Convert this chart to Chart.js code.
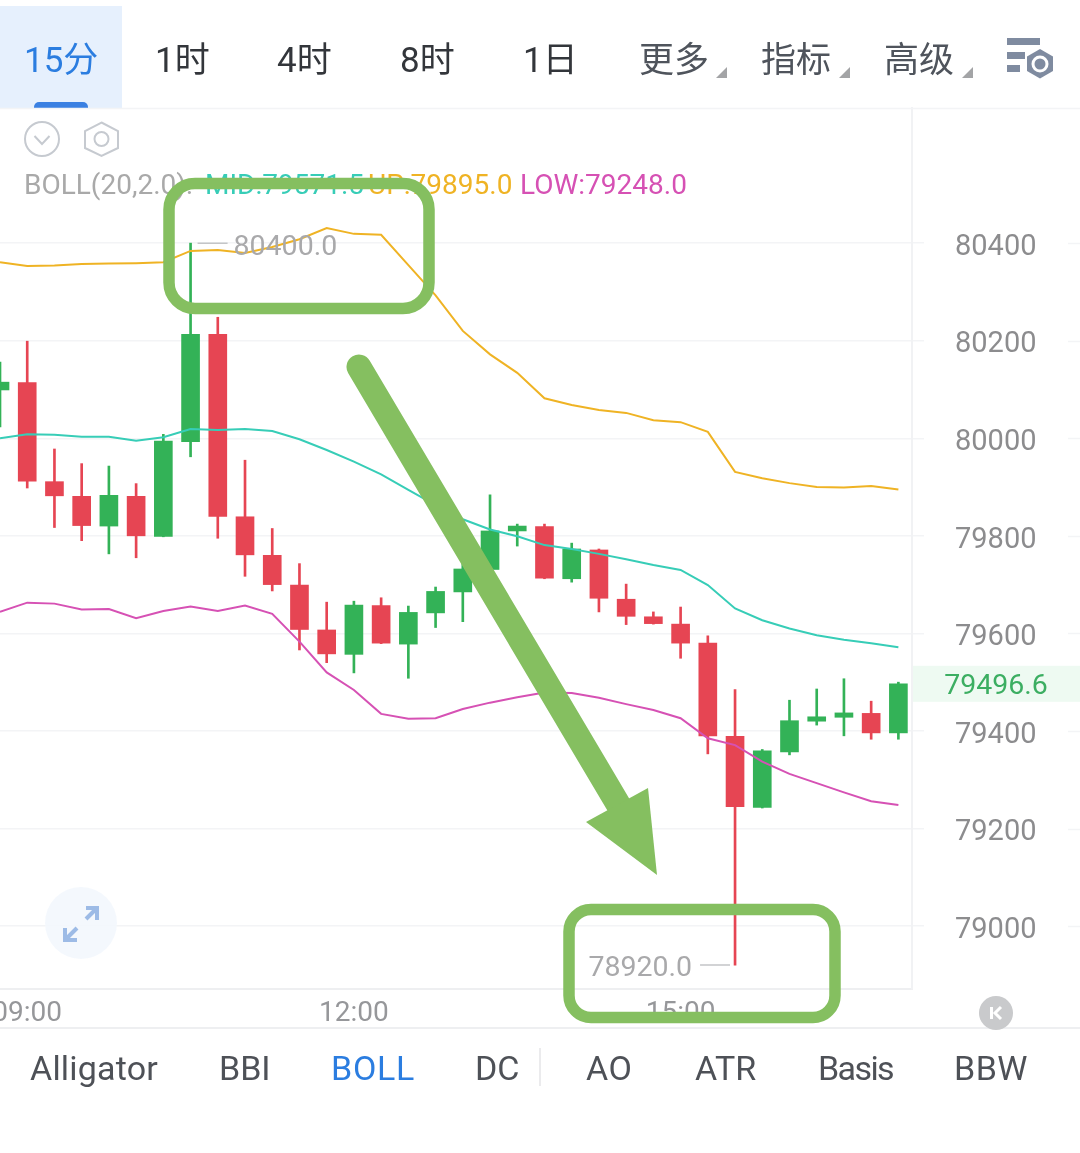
<!DOCTYPE html>
<html>
<head>
<meta charset="utf-8">
<script src="https://cdn.jsdelivr.net/npm/chart.js@4"></script>
<style>
html,body{margin:0;padding:0;background:#fff;width:1080px;height:1153px;overflow:hidden}
#wrap{position:relative;width:1080px;height:1153px;overflow:hidden;font-family:Roboto,"Noto Sans CJK SC",sans-serif}
canvas{position:absolute;left:0;top:0}
.t{position:absolute;white-space:nowrap;line-height:1;transform:translateY(-50%)}
.cn{font-family:Roboto,"Noto Sans CJK SC",sans-serif;font-size:35px;font-weight:400;color:#33363b}
.menu{color:#4f545c}
.tab{font-size:34px;color:#4e5157}
.leg{font-size:28px}
#overlay{position:absolute;left:0;top:0}
</style>
</head>
<body>
<div id="wrap">
  <div style="position:absolute;left:0;top:6px;width:122px;height:102px;background:#e6f0fd"></div>
  <div style="position:absolute;left:34px;top:102px;width:54px;height:6px;background:#3a80e2;border-radius:5px 5px 0 0"></div>
  <canvas id="c" width="1080" height="1153"></canvas>
  <span class="t cn" style="left:24px;top:60px;color:#2b7de0">15分</span>
  <span class="t cn" style="left:155px;top:60px">1时</span>
  <span class="t cn" style="left:277px;top:60px">4时</span>
  <span class="t cn" style="left:400px;top:60px">8时</span>
  <span class="t cn" style="left:523px;top:60px">1日</span>
  <span class="t cn menu" style="left:639px;top:60px">更多</span>
  <span class="t cn menu" style="left:761px;top:60px">指标</span>
  <span class="t cn menu" style="left:884px;top:60px">高级</span>
  <div id="legend"></div>
  <span class="t tab" style="left:30px;top:1068px;letter-spacing:.2px">Alligator</span>
  <span class="t tab" style="left:219px;top:1068px">BBI</span>
  <span class="t tab" style="left:331px;top:1068px;color:#2b7de0;letter-spacing:.7px">BOLL</span>
  <span class="t tab" style="left:475px;top:1068px">DC</span>
  <span class="t tab" style="left:586px;top:1068px;letter-spacing:.5px">AO</span>
  <span class="t tab" style="left:695px;top:1068px">ATR</span>
  <span class="t tab" style="left:818px;top:1068px;letter-spacing:-1.6px">Basis</span>
  <span class="t tab" style="left:954px;top:1068px;letter-spacing:.5px">BBW</span>
  <svg id="overlay" width="1080" height="1153" viewBox="0 0 1080 1153">
    <!-- toolbar carets -->
    <polygon points="727,67 727,78 716,78" fill="#a3a4a6"/>
    <polygon points="850,67 850,78 839,78" fill="#a3a4a6"/>
    <polygon points="973,67 973,78 962,78" fill="#a3a4a6"/>
    <!-- settings icon -->
    <rect x="1007" y="38" width="33" height="7" fill="#7f8ba0"/>
    <rect x="1007" y="52" width="18" height="7" fill="#7f8ba0"/>
    <rect x="1007" y="65" width="13" height="7" fill="#7f8ba0"/>
    <polygon points="1040,49 1053,56.5 1053,71 1040,78.5 1027,71 1027,56.5" fill="#7f8ba0"/>
    <circle cx="1040" cy="64" r="8.5" fill="#fff"/>
    <circle cx="1040" cy="64" r="5.5" fill="#7f8ba0"/>
    <!-- collapse + hex icons -->
    <circle cx="42" cy="139" r="17" fill="none" stroke="#c6cad0" stroke-width="2"/>
    <polyline points="34.5,136 42,144 49.5,136" fill="none" stroke="#c6cad0" stroke-width="2"/>
    <polygon points="101.5,122.5 118,131 118,148 101.5,156 85,148 85,131" fill="none" stroke="#c6cad0" stroke-width="2"/>
    <circle cx="101.5" cy="139" r="7" fill="none" stroke="#c6cad0" stroke-width="2"/>
    <!-- expand button -->
    <circle cx="81" cy="923" r="36" fill="#f3f7fd" fill-opacity=".9"/>
    <polyline points="86,908 97,908 97,920" fill="none" stroke="#9dbbe6" stroke-width="4"/>
    <line x1="96" y1="909" x2="86" y2="919" stroke="#9dbbe6" stroke-width="4"/>
    <polyline points="65,928 65,940 77,940" fill="none" stroke="#9dbbe6" stroke-width="4"/>
    <line x1="66" y1="939" x2="77" y2="928" stroke="#9dbbe6" stroke-width="4"/>
    <!-- K button -->
    <circle cx="996" cy="1013" r="17" fill="#c9cacc"/>
    <rect x="990" y="1007" width="3" height="12" fill="#fff"/>
    <polyline points="1001,1007 995,1013 1001,1019" fill="none" stroke="#fff" stroke-width="3"/>
    <!-- tab separator -->
    <line x1="540" y1="1048" x2="540" y2="1086" stroke="#e4e5e7" stroke-width="1.5"/>
    <!-- annotations -->
    <rect x="169" y="183.5" width="260" height="125" rx="26" fill="none" stroke="#85bf60" stroke-width="11.5"/>
    <rect x="569" y="909.5" width="266" height="108" rx="22" fill="none" stroke="#85bf60" stroke-width="11.5"/>
    <line x1="359" y1="367" x2="618" y2="804" stroke="#85bf60" stroke-width="25" stroke-linecap="round"/>
    <polygon points="657,875 586,822 648,788" fill="#85bf60"/>
  </svg>
</div>
<script>
const times = ['08:45','09:00','09:15','09:30','09:45','10:00','10:15','10:30','10:45','11:00','11:15','11:30','11:45','12:00','12:15','12:30','12:45','13:00','13:15','13:30','13:45','14:00','14:15','14:30','14:45','15:00','15:15','15:30','15:45','16:00','16:15','16:30','16:45','17:00'];
const opens = [80099,80114,79911,79881,79820,79881,79799,79993,80213,79839,79760,79699,79607,79557,79657,79578,79642,79685,79731,79810,79819,79712,79771,79670,79634,79619,79580,79389,79243,79357,79420,79428,79436,79396];
const closes = [80115,79912,79882,79821,79883,79800,79994,80213,79840,79761,79700,79608,79558,79658,79580,79643,79686,79732,79810,79820,79713,79773,79672,79635,79620,79580,79390,79245,79359,79421,79429,79437,79396,79496.6];
const highs = [80156,80199,79978,79948,79943,79907,80008,80400,80248,79955,79815,79743,79664,79666,79673,79656,79695,79744,79884,79824,79824,79785,79773,79701,79644,79654,79595,79485,79362,79463,79486,79507,79461,79500];
const lows = [80023,79898,79817,79790,79763,79755,79798,79962,79795,79717,79687,79566,79540,79519,79579,79508,79612,79624,79730,79779,79712,79705,79644,79618,79619,79549,79353,78920,79242,79351,79412,79390,79383,79383];
const up = [80361,80353,80354,80357,80358,80359,80361,80384,80386,80380,80392,80408,80431,80419,80417,80355,80293,80220,80172,80134,80082,80068,80058,80052,80037,80033,80013,79931,79918,79908,79900,79899,79902,79895];
const mid = [80000,80008,80007,80003,80003,79995,80002,80019,80017,80019,80015,79998,79976,79952,79926,79894,79863,79834,79813,79799,79781,79773,79763,79752,79740,79730,79699,79651,79627,79610,79596,79587,79580,79571.5];
const low = [79644,79663,79661,79649,79650,79631,79646,79655,79646,79657,79640,79583,79520,79484,79435,79425,79426,79445,79458,79469,79479,79478,79468,79455,79443,79426,79385,79371,79337,79312,79293,79274,79256,79248];
const yTicks = [79000,79200,79400,79600,79800,80000,80200,80400];
const xTickIdx = [1,13,25];

const RED = '#e64553', GREEN = '#33b257', GRID = '#f3f4f6';
const TEAL = '#37cdb7', ORANGE = '#efb324', MAGENTA = '#d651b4';
const candleColors = opens.map((o,i)=> closes[i] >= o ? GREEN : RED);
const xs = times.map((_,i)=>i);

document.getElementById('legend').innerHTML =
  '<span class="t leg" style="left:24px;top:185px;color:#a9a9a9">BOLL(20,2.0):</span>'+
  `<span class="t leg" style="left:205px;top:185px;color:${TEAL}">MID:${mid[33].toFixed(1)}</span>`+
  `<span class="t leg" style="left:368px;top:185px;color:${ORANGE}">UP:${up[33].toFixed(1)}</span>`+
  `<span class="t leg" style="left:520px;top:185px;color:${MAGENTA}">LOW:${low[33].toFixed(1)}</span>`;

function lineDS(name, arr, color){
  return {type:'line',label:name,data:xs.map(i=>({x:i,y:arr[i]})),borderColor:color,borderWidth:2,pointRadius:0,tension:0,order:0};
}
function shiftLabels(s, dy){
  if (s._shifted) return;
  s._shifted = true;
  const draw = s.drawLabels;
  s.drawLabels = function(area){
    const ctx = this.ctx;
    ctx.save(); ctx.translate(0,dy); draw.call(this,area); ctx.restore();
  };
}
const overlayPlugin = {
  id:'overlayMarks',
  beforeDatasetsDraw(chart){
    const {ctx,scales:{y}} = chart;
    ctx.save();
    const py = y.getPixelForValue(closes[33]);
    ctx.fillStyle = '#eefaf2';
    ctx.fillRect(913, py-18, 167, 36);
    ctx.strokeStyle = GRID; ctx.lineWidth = 1.5;
    yTicks.forEach(v=>{
      const p = Math.round(y.getPixelForValue(v))+.5;
      ctx.beginPath(); ctx.moveTo(1068,p); ctx.lineTo(1080,p); ctx.stroke();
    });
    ctx.beginPath(); ctx.moveTo(0,108.5); ctx.lineTo(1080,108.5); ctx.stroke();
    ctx.strokeStyle = '#eeeff1'; ctx.lineWidth = 2;
    ctx.beginPath(); ctx.moveTo(0,1028); ctx.lineTo(1080,1028); ctx.stroke();
    ctx.restore();
  },
  afterDatasetsDraw(chart){
    const {ctx,scales:{x,y}} = chart;
    ctx.save();
    ctx.font = '28.5px Roboto';
    ctx.textBaseline = 'middle';
    const hi = highs.indexOf(Math.max(...highs)), lo = lows.indexOf(Math.min(...lows));
    const hx = x.getPixelForValue(hi), hy = y.getPixelForValue(highs[hi]);
    const lx = x.getPixelForValue(lo), ly = y.getPixelForValue(lows[lo]);
    ctx.strokeStyle = '#c4c5c7'; ctx.lineWidth = 1.5;
    ctx.beginPath(); ctx.moveTo(hx+7,hy); ctx.lineTo(hx+37,hy); ctx.moveTo(lx-5,ly); ctx.lineTo(lx-35,ly); ctx.stroke();
    ctx.fillStyle = '#a9a9ab';
    ctx.textAlign = 'left'; ctx.fillText(highs[hi].toFixed(1), hx+43, hy+5);
    ctx.textAlign = 'right'; ctx.fillText(lows[lo].toFixed(1), lx-43, ly+4);
    ctx.fillStyle = '#3cae62'; ctx.textAlign = 'center';
    ctx.fillText(closes[33].toFixed(1), 996, y.getPixelForValue(closes[33])+3);
    ctx.restore();
  }
};

new Chart(document.getElementById('c'),{
  data:{datasets:[
    lineDS('MID',mid,TEAL),
    lineDS('UP',up,ORANGE),
    lineDS('LOW',low,MAGENTA),
    {type:'bar',label:'Body',data:xs.map(i=>({x:i,y:[opens[i],closes[i]]})),backgroundColor:candleColors,barThickness:18,grouped:false,borderSkipped:false,order:1},
    {type:'bar',label:'Wick',data:xs.map(i=>({x:i,y:[lows[i],highs[i]]})),backgroundColor:candleColors,barThickness:2,grouped:false,borderSkipped:false,order:2}
  ]},
  options:{
    responsive:false,animation:false,devicePixelRatio:1,
    layout:{padding:{top:108,left:0,right:0,bottom:0}},
    plugins:{legend:{display:false},tooltip:{enabled:false}},
    scales:{
      x:{type:'linear',min:0,max:33.5,offset:false,position:'bottom',
        afterBuildTicks(s){s.ticks = xTickIdx.map(v=>({value:v}));},
        afterFit(s){s.height = 164; s.paddingLeft = 0; s.paddingRight = 0;},
        grid:{display:false},
        border:{display:true,color:'#eeeff1',width:2},
        ticks:{autoSkip:false,maxRotation:0,padding:0,color:'#96979a',font:{family:'Roboto',size:28},callback:v=>times[v]}
      },
      y:{type:'linear',position:'right',min:78871,max:80677,
        afterBuildTicks(s){s.ticks = yTicks.map(v=>({value:v}));},
        afterFit(s){s.width = 168; s.paddingTop = 0; s.paddingBottom = 0; shiftLabels(s,4.5);},
        grid:{color:GRID,lineWidth:1.5,tickLength:12,tickColor:GRID},
        border:{display:true,color:'#f1f2f4',width:2},
        ticks:{padding:31,crossAlign:'center',color:'#8c8c8e',font:{family:'Roboto',size:29},callback:v=>String(v)}
      }
    }
  },
  plugins:[overlayPlugin]
});
</script>
</body>
</html>
